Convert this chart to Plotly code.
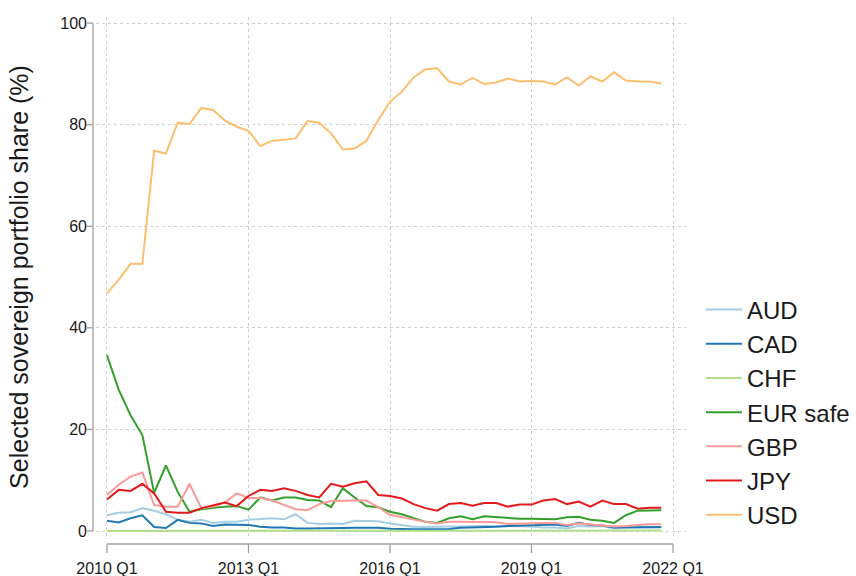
import plotly.graph_objects as go

# ---- data ----
quarters = [f"{y} Q{q}" for y in range(2010, 2022) for q in range(1, 5)]
tick_labels = ["2010 Q1", "2013 Q1", "2016 Q1", "2019 Q1", "2022 Q1"]
tick_quarters = [0, 12, 24, 36, 48]
y_ticks = [0, 20, 40, 60, 80, 100]

AUD = [3.1, 3.6, 3.7, 4.5, 4.0, 3.3, 2.2, 1.8, 2.2, 1.6, 1.8, 1.8, 2.2,
       2.3, 2.5, 2.3, 3.3, 1.6, 1.4, 1.5, 1.4, 2.0, 2.0, 1.9,
       1.5, 1.2, 0.85, 0.8, 0.9, 0.9, 0.9, 1.0, 1.0, 1.0, 1.0, 1.0,
       0.9, 0.7, 0.7, 0.5, 1.0, 0.9, 1.0, 0.5, 0.7, 0.7, 0.7, 0.7]
CAD = [2.0, 1.7, 2.5, 3.1, 0.8, 0.6, 2.2, 1.6, 1.5, 1.0, 1.3, 1.3, 1.2,
       0.85, 0.7, 0.7, 0.5, 0.5, 0.5, 0.6, 0.6, 0.65, 0.65, 0.65,
       0.45, 0.35, 0.35, 0.35, 0.35, 0.4, 0.65, 0.7, 0.7, 0.85, 1.0, 1.1,
       1.1, 1.2, 1.3, 1.0, 1.6, 1.2, 1.1, 0.7, 0.7, 0.7, 0.8, 0.8]
CHF = [0.0, 0.0, 0.0, 0.0, 0.05, 0.05, 0.05, 0.05, 0.05, 0.05, 0.05, 0.05,
       0.05, 0.05, 0.05, 0.05, 0.05, 0.05, 0.05, 0.05, 0.05, 0.05, 0.05, 0.05,
       0.05, 0.05, 0.05, 0.05, 0.05, 0.05, 0.05, 0.05, 0.05, 0.05, 0.05, 0.05,
       0.1, 0.1, 0.1, 0.1, 0.1, 0.1, 0.1, 0.1, 0.1, 0.1, 0.1, 0.1]
EUR_safe = [34.6, 27.8, 22.8, 18.9, 7.5, 12.9, 7.7, 3.8, 4.3, 4.6, 4.8, 4.9, 4.2,
            6.6, 6.0, 6.6, 6.6, 6.1, 6.0, 4.7, 8.4, 6.6, 4.9, 4.7,
            3.8, 3.3, 2.5, 1.8, 1.6, 2.5, 2.9, 2.3, 2.9, 2.7, 2.5, 2.4,
            2.4, 2.3, 2.3, 2.7, 2.8, 2.2, 2.0, 1.6, 3.1, 4.0, 4.0, 4.1]
GBP = [7.1, 9.1, 10.7, 11.5, 5.1, 4.8, 4.8, 9.3, 4.5, 4.8, 5.6, 7.4, 6.5,
       6.5, 6.0, 5.1, 4.3, 4.1, 5.3, 5.9, 6.0, 6.0, 6.0, 4.7,
       3.2, 2.7, 2.2, 1.8, 1.5, 1.8, 1.8, 1.8, 1.8, 1.7, 1.4, 1.5,
       1.5, 1.6, 1.6, 1.2, 1.5, 1.3, 1.0, 0.9, 1.0, 1.2, 1.35, 1.35]
JPY = [6.2, 8.1, 7.9, 9.3, 7.4, 3.8, 3.6, 3.6, 4.5, 5.1, 5.6, 4.9, 6.9,
       8.1, 7.9, 8.4, 7.9, 7.1, 6.6, 9.3, 8.7, 9.4, 9.8, 7.1,
       6.9, 6.4, 5.3, 4.5, 4.0, 5.3, 5.5, 5.0, 5.5, 5.5, 4.8, 5.2,
       5.2, 6.0, 6.3, 5.3, 5.8, 4.8, 6.0, 5.3, 5.3, 4.4, 4.6, 4.6]
USD = [46.8, 49.5, 52.6, 52.6, 74.9, 74.3, 80.4, 80.1, 83.3, 82.9, 80.8, 79.6,
       78.8, 75.8, 76.8, 77.1, 77.3, 80.7, 80.4, 78.3, 75.1, 75.3, 76.8, 80.9,
       84.5, 86.5, 89.3, 90.9, 91.1, 88.5, 87.9, 89.2, 88.0, 88.3, 89.1, 88.5,
       88.6, 88.5, 87.9, 89.3, 87.7, 89.5, 88.5, 90.3, 88.7, 88.5, 88.5, 88.1]

series_names = ["AUD", "CAD", "CHF", "EUR safe", "GBP", "JPY", "USD"]
series_values = [AUD, CAD, CHF, EUR_safe, GBP, JPY, USD]
colors = ["#a6cee3", "#1f78b4", "#b2df8a", "#33a02c", "#fb9a99", "#e31a1c", "#fdbf6f"]

FONT = "Liberation Sans, Arial, sans-serif"
x_idx = list(range(len(quarters)))

fig = go.Figure()
for name, vals, col in zip(series_names, series_values, colors):
    fig.add_trace(go.Scatter(x=x_idx, y=vals, name=name, mode="lines",
                             line=dict(color=col, width=2),
                             customdata=quarters,
                             hovertemplate="%{customdata}: %{y}<extra>" + name + "</extra>"))

AX = "#a0a0a0"
shapes = []
# detached y axis line + ticks
shapes.append(dict(type="line", xref="paper", yref="y", x0=-0.0051, x1=-0.0051,
                   y0=y_ticks[0], y1=y_ticks[-1], line=dict(color=AX, width=1.3)))
for v in y_ticks:
    shapes.append(dict(type="line", xref="paper", yref="y", x0=-0.0153, x1=-0.0051,
                       y0=v, y1=v, line=dict(color=AX, width=1.3)))
# detached x axis line + ticks
shapes.append(dict(type="line", xref="x", yref="paper", x0=tick_quarters[0], x1=tick_quarters[-1],
                   y0=-0.0135, y1=-0.0135, line=dict(color=AX, width=1.3)))
for t in tick_quarters:
    shapes.append(dict(type="line", xref="x", yref="paper", x0=t, x1=t,
                       y0=-0.0135, y1=-0.031, line=dict(color=AX, width=1.3)))

fig.update_layout(
    width=856, height=576,
    margin=dict(l=96, r=170, t=17, b=39, autoexpand=False),
    paper_bgcolor="white", plot_bgcolor="white",
    font=dict(family=FONT, color="#1a1a1a"),
    shapes=shapes,
    showlegend=True,
    legend=dict(x=1.0254, xanchor="left", y=0.2395, yanchor="middle",
                font=dict(size=24, family=FONT, color="#1a1a1a"),
                bgcolor="rgba(0,0,0,0)", itemwidth=36),
    xaxis=dict(range=[-0.93, 49.1], tickmode="array", tickvals=tick_quarters,
               ticktext=tick_labels, showgrid=True, gridcolor="#d0d0d0",
               griddash="dot", gridwidth=1, zeroline=False, showline=False,
               automargin=False,
               ticks="", ticklabelstandoff=20, tickfont=dict(size=16, family=FONT)),
    yaxis=dict(range=[-1.18, 101.2], tickmode="array", tickvals=y_ticks,
               showgrid=True, gridcolor="#d0d0d0", griddash="dot", gridwidth=1,
               zeroline=False, showline=False, ticks="", ticklabelstandoff=8,
               automargin=False,
               tickfont=dict(size=16, family=FONT),
               title=dict(text="Selected sovereign portfolio share (%)",
                          font=dict(size=25, family=FONT), standoff=24)),
)

fig.write_html("out.html", config={"displayModeBar": False},
               post_script="document.body.style.margin='0';document.body.style.overflow='hidden';")
